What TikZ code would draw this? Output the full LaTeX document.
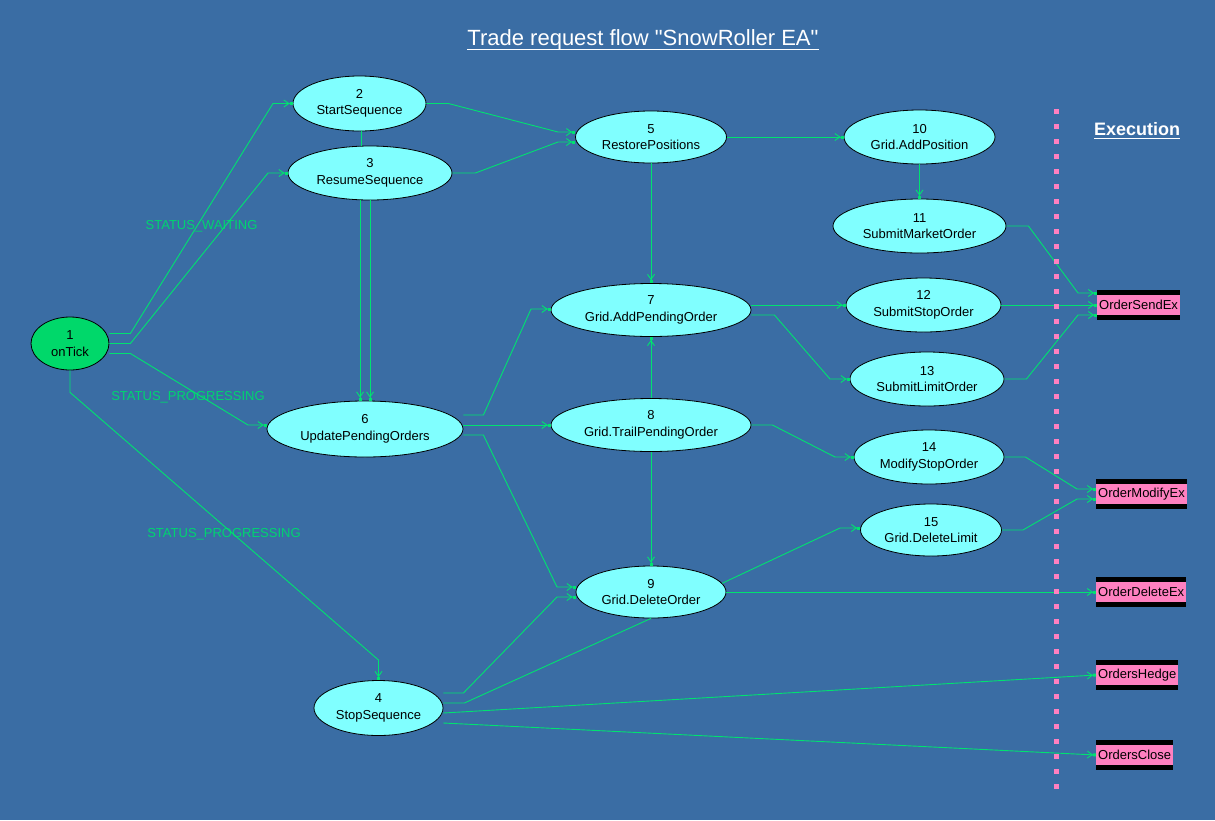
\documentclass[tikz,border=0pt]{standalone}
\usepackage{fontspec}
\setmainfont{Liberation Sans}[Ligatures=TeXOff]
\usetikzlibrary{shapes.geometric,arrows.meta}
\definecolor{bg}{RGB}{58,109,164}
\definecolor{edgegreen}{RGB}{0,226,112}
\definecolor{labgreen}{RGB}{0,212,112}
\definecolor{nodecyan}{RGB}{128,255,255}
\definecolor{startgreen}{RGB}{0,216,106}
\definecolor{execpink}{RGB}{255,128,192}
\newcommand{\ulined}[3]{\setbox0\hbox{#3}\leavevmode\rlap{\rule[-#1]{\wd0}{#2}}\box0}
\begin{document}
\begin{tikzpicture}[x=1pt,y=-1pt,
  nd/.style={ellipse, draw=black, fill=nodecyan, line width=0.8pt, inner sep=0pt,
    align=center, text=black, font=\fontsize{13}{16.5}\selectfont},
  exec/.style={rectangle, fill=execpink, anchor=west, minimum height=20pt, inner xsep=2pt,
    inner ysep=0pt, text=black, font=\fontsize{13}{15}\selectfont},
  edge/.style={draw=edgegreen, line width=0.9pt},
  arr/.style={-{Straight Barb[length=5pt,width=7pt]Square[length=3pt,width=3pt]}},
  lab/.style={text=labgreen, font=\fontsize{13}{15}\selectfont, inner sep=0pt}
]
\fill[bg] (0,0) rectangle (1215,820);
\useasboundingbox (0,0) rectangle (1215,820);

% title
\node[text=white, font=\fontsize{22}{26}\selectfont, inner sep=0pt] (title) at (643,40)
  {\ulined{4.5pt}{1.6pt}{Trade request flow "SnowRoller EA"}};
\node[text=white, font=\fontsize{18}{22}\bfseries, inner sep=0pt] (exectitle) at (1137,131)
  {\ulined{3.5pt}{1.6pt}{Execution}};

% nodes
\node[nd, fill=startgreen, minimum width=78pt, minimum height=53pt] (n1) at (70,343.5) {1\\onTick};
\node[nd, minimum width=133pt, minimum height=55pt] (n2) at (359.5,103.5) {2\\StartSequence};
\node[nd, minimum width=164pt, minimum height=54pt] (n3) at (370,173) {3\\ResumeSequence};
\node[nd, minimum width=129pt, minimum height=55pt] (n4) at (378.5,708) {4\\StopSequence};
\node[nd, minimum width=151pt, minimum height=52pt] (n5) at (651,137) {5\\RestorePositions};
\node[nd, minimum width=196pt, minimum height=56pt] (n6) at (365,429) {6\\UpdatePendingOrders};
\node[nd, minimum width=200pt, minimum height=53pt] (n7) at (651,310) {7\\Grid.AddPendingOrder};
\node[nd, minimum width=200pt, minimum height=53pt] (n8) at (651,425) {8\\Grid.TrailPendingOrder};
\node[nd, minimum width=150pt, minimum height=52pt] (n9) at (651,592) {9\\Grid.DeleteOrder};
\node[nd, minimum width=151pt, minimum height=54pt] (n10) at (919.5,137) {10\\Grid.AddPosition};
\node[nd, minimum width=173pt, minimum height=54pt] (n11) at (919.5,226) {11\\SubmitMarketOrder};
\node[nd, minimum width=155pt, minimum height=54pt] (n12) at (923.5,305) {12\\SubmitStopOrder};
\node[nd, minimum width=154pt, minimum height=54pt] (n13) at (927,379) {13\\SubmitLimitOrder};
\node[nd, minimum width=150pt, minimum height=54pt] (n14) at (929,457) {14\\ModifyStopOrder};
\node[nd, minimum width=141pt, minimum height=52pt] (n15) at (931,530) {15\\Grid.DeleteLimit};

% execution boxes
\node[exec] (e1) at (1097,305) {OrderSendEx};
\node[exec] (e2) at (1096,494) {OrderModifyEx};
\node[exec] (e3) at (1096,592) {OrderDeleteEx};
\node[exec] (e4) at (1096,675) {OrdersHedge};
\node[exec] (e5) at (1096,755) {OrdersClose};
\foreach \e in {e1,e2,e3,e4,e5}{
  \fill[black] (\e.north west) rectangle ([yshift=5pt]\e.north east);
  \fill[black] (\e.south west) rectangle ([yshift=-5pt]\e.south east);
}

% edge labels
\node[lab] (l1) at (201.5,226) {STATUS\_WAITING};
\node[lab] (l2) at (188,397) {STATUS\_PROGRESSING};
\node[lab] (l3) at (224,534) {STATUS\_PROGRESSING};

% edges
\draw[edge,arr] ([yshift=10pt]n1.east) -- ++(21,0) -- (273,103.5) -- (n2.west);
\draw[edge,arr] (n1.east) -- ++(21,0) -- (268,173) -- (n3.west);
\draw[edge,arr] ([yshift=-10pt]n1.east) -- ++(21,0) -- (248,425) -- ([yshift=4pt]n6.west);
\draw[edge,arr] (n1.south) -- ++(0,22) -- (378.5,660) -- (n4.north);
\draw[edge] ([xshift=1.5pt]n2.south) -- ([xshift=1.5pt]n2.south |- n3.north);
\draw[edge,arr] (n2.east) -- ++(22,0) -- (558,132) -- ([yshift=5pt]n5.west);
\draw[edge,arr] (n3.east) -- ++(23,0) -- (558,142) -- ([yshift=-5pt]n5.west);
\draw[edge,arr] ([xshift=-10pt]n3.south) -- ([xshift=-10pt]n3.south |- n6.north);
\draw[edge,arr] (n3.south) -- (n3.south |- n6.north);
\draw[edge,arr] (n5.south) -- (n7.north);
\draw[edge,arr] (n5.east) -- (n10.west);
\draw[edge,arr] (n10.south) -- (n11.north);
\draw[edge,arr] (n11.east) -- ++(22,0) -- (1078,293) -- ([yshift=12pt]e1.west);
\draw[edge,arr] (n12.east) -- (e1.west);
\draw[edge,arr] (n13.east) -- ++(22,0) -- (1078,315) -- ([yshift=-10pt]e1.west);
\draw[edge,arr] ([yshift=14pt]n6.east) -- ++(20,0) -- (531,309) -- ([yshift=1pt]n7.west);
\draw[edge,arr] ([yshift=4pt]n6.east) -- (n8.west);
\draw[edge,arr] ([yshift=-6pt]n6.east) -- ++(20,0) -- (557,587) -- ([yshift=5pt]n9.west);
\draw[edge,arr] (n8.north) -- (n7.south);
\draw[edge,arr] (n8.south) -- (n9.north);
\draw[edge,arr] ([yshift=5pt]n7.east) -- (n12.west);
\draw[edge,arr] ([yshift=-5pt]n7.east) -- ++(23,0) -- (830,379) -- (n13.west);
\draw[edge,arr] (n8.east) -- ++(21,0) -- (835,457) -- (n14.west);
\draw[edge,arr] (n9.7) -- (840,528) -- ([yshift=2pt]n15.west);
\draw[edge,arr] (n9.east) -- (e3.west);
\draw[edge,arr] (n14.east) -- ++(21,0) -- (1077,489) -- ([yshift=5pt]e2.west);
\draw[edge,arr] (n15.east) -- ++(21,0) -- (1077,499) -- ([yshift=-5pt]e2.west);
\draw[edge,arr] ([yshift=15pt]n4.east) -- ++(20,0) -- (557,597) -- ([yshift=-5pt]n9.west);
\draw[edge] ([yshift=5pt]n4.east) -- ++(21,0) -- (n9.south);
\draw[edge,arr] ([yshift=-5pt]n4.east) -- (e4.west);
\draw[edge,arr] ([yshift=-15pt]n4.east) -- (e5.west);

% execution separator
\draw[execpink, line width=5pt, dash pattern=on 5pt off 10pt] (1056,109) -- (1056,792);
\end{tikzpicture}
\end{document}
